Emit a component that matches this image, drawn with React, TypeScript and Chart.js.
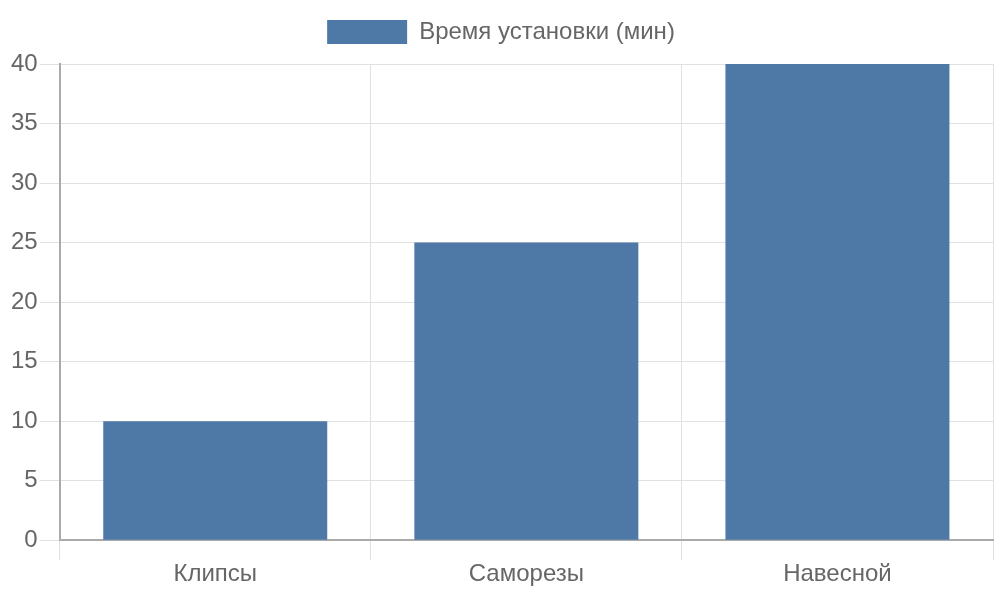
import React, { useEffect, useRef } from "react";
import Chart from "chart.js/auto";

const categories = ["Клипсы", "Саморезы", "Навесной"];
const installTime = [10, 25, 40];
const seriesLabel = "Время установки (мин)";

const FONT = "'Liberation Sans', Arial, sans-serif";

// legend gets a little extra space under it
const legendGap = {
    id: "legendGap",
    beforeInit(chart: any) {
        const origFit = chart.legend.fit;
        chart.legend.fit = function fit() {
            origFit.bind(chart.legend)();
            this.height += 10;
        };
    },
};

const App = () => {
    const canvasRef = useRef<HTMLCanvasElement | null>(null);

    useEffect(() => {
        const ctx = canvasRef.current?.getContext("2d");
        if (!ctx) return;

        const chart = new Chart(ctx, {
            type: "bar",
            data: {
                labels: categories,
                datasets: [
                    {
                        label: seriesLabel,
                        data: installTime,
                        backgroundColor: "#4e79a7",
                        borderWidth: 0,
                    },
                ],
            },
            options: {
                animation: false,
                responsive: true,
                maintainAspectRatio: false,
                layout: { padding: { left: 9, right: 7, top: 10, bottom: 11 } },
                plugins: {
                    legend: {
                        position: "top",
                        labels: {
                            boxWidth: 80,
                            boxHeight: 24,
                            color: "#666",
                            padding: 10,
                            font: { family: FONT, size: 24 },
                        },
                    },
                    tooltip: { enabled: false },
                },
                scales: {
                    x: {
                        grid: { color: "#e1e1e1", tickLength: 20, lineWidth: 1 },
                        border: { color: "#aaa", width: 2 },
                        ticks: { color: "#666", padding: 0, font: { family: FONT, size: 24 } },
                    },
                    y: {
                        min: 0,
                        max: 40,
                        grid: { color: "#e1e1e1", tickLength: 20 },
                        border: { color: "#aaa", width: 2 },
                        ticks: { stepSize: 5, color: "#666", padding: 2, font: { family: FONT, size: 24 } },
                    },
                },
            },
            plugins: [legendGap],
        });

        return () => {
            chart.destroy();
        };
    }, []);

    return (
        <div style={{ position: "absolute", left: 0, top: 0, width: 1000, height: 600 }}>
            <canvas ref={canvasRef} />
        </div>
    );
};

export default App;
